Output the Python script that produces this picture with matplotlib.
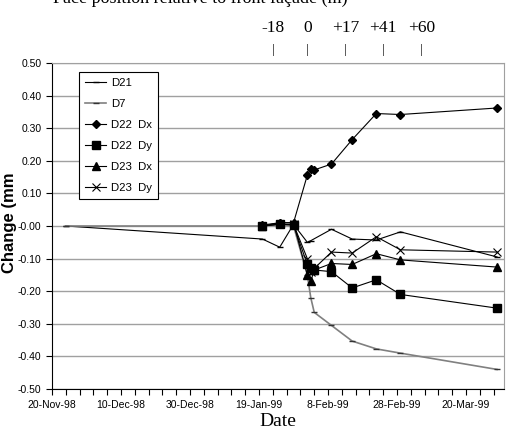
import numpy as np
import matplotlib
matplotlib.use("Agg")
import matplotlib.pyplot as plt
import matplotlib.transforms as mtransforms

plt.rcParams['font.family'] = ['Liberation Sans', 'DejaVu Sans']

# D21 and D7 - continuous readings
d21_dates = ['1998-11-24', '1999-01-20', '1999-01-25', '1999-01-29', '1999-02-02', '1999-02-03',
             '1999-02-09', '1999-02-15', '1999-02-22', '1999-03-01', '1999-03-29']
d21_vals = [0.00, -0.04, -0.065, 0.005, -0.05, -0.045, -0.01, -0.04, -0.043, -0.018, -0.095]

d7_dates = ['1998-11-24', '1999-01-20', '1999-01-25', '1999-01-29', '1999-02-02', '1999-02-03',
            '1999-02-04', '1999-02-09', '1999-02-15', '1999-02-22', '1999-03-01', '1999-03-29']
d7_vals = [0.00, 0.00, 0.005, 0.0, -0.15, -0.22, -0.265, -0.305, -0.353, -0.377, -0.39, -0.44]

# D22 / D23 survey points
pt_dates = ['1999-01-20', '1999-01-25', '1999-01-29', '1999-02-02', '1999-02-03', '1999-02-04',
            '1999-02-09', '1999-02-15', '1999-02-22', '1999-03-01', '1999-03-29']
d22_dx = [0.003, 0.01, 0.01, 0.156, 0.175, 0.172, 0.19, 0.265, 0.345, 0.342, 0.362]
d22_dy = [0.0, 0.006, 0.003, -0.118, -0.13, -0.135, -0.14, -0.19, -0.165, -0.21, -0.252]
d23_dx = [0.0, 0.01, 0.01, -0.15, -0.17, -0.135, -0.115, -0.118, -0.085, -0.104, -0.126]
d23_dy = [0.0, 0.005, 0.005, -0.10, -0.14, -0.13, -0.08, -0.083, -0.033, -0.073, -0.08]

# face position markers along the top
face_dates = ['1999-01-23', '1999-02-02', '1999-02-13', '1999-02-24', '1999-03-07']
face_labels = ['-18', '0', '+17', '+41', '+60']

d21_t = np.array(d21_dates, dtype='datetime64[D]')
d7_t = np.array(d7_dates, dtype='datetime64[D]')
pt_t = np.array(pt_dates, dtype='datetime64[D]')

fig = plt.figure(figsize=(5.13, 4.36), dpi=100)
ax = fig.add_axes([52/513, 1-389/436, 452/513, 326/436])

ax.plot(d21_t, d21_vals, color='black', lw=0.8, marker='_', ms=4, mew=1, label='D21')
ax.plot(d7_t, d7_vals, color='#808080', lw=1.2, marker='_', ms=4, mew=1, mec='#333333', label='D7')
ax.plot(pt_t, d22_dx, color='black', lw=0.8, marker='D', ms=4.5, label='D22  Dx')
ax.plot(pt_t, d22_dy, color='black', lw=0.8, marker='s', ms=5.5, label='D22  Dy')
ax.plot(pt_t, d23_dx, color='black', lw=0.8, marker='^', ms=6, label='D23  Dx')
ax.plot(pt_t, d23_dy, color='black', lw=0.8, marker='x', ms=6, mew=0.8, label='D23  Dy')

start = np.datetime64('1998-11-20')
ax.set_xlim(start, np.datetime64('1999-03-31'))
ax.set_ylim(-0.5, 0.5)

major = start + np.arange(0, 121, 20)
ax.set_xticks(major)
ax.set_xticklabels([f"{d.day}-{d.strftime('%b-%y')}" for d in major.astype(object)], fontsize=7.5)
ax.set_xticks(start + np.arange(0, 132, 4), minor=True)
ax.tick_params(axis='x', which='both', direction='out', length=4, width=0.8, pad=4)

ax.set_yticks(np.arange(-0.5, 0.51, 0.1))
ax.set_yticklabels([f"{v:.2f}" for v in np.arange(-0.5, 0.51, 0.1)], fontsize=7.5)
ax.tick_params(axis='y', direction='out', length=4, width=0.8)
ax.yaxis.grid(True, color='#a0a0a0', lw=1)
ax.set_axisbelow(True)

ax.spines['top'].set_color('#a0a0a0')
ax.spines['right'].set_color('#a0a0a0')

ax.set_xlabel('Date', family='Liberation Serif', fontsize=14, labelpad=2)
fig.text(10/513, 1-223/436, 'Change (mm', rotation=90, fontsize=12, fontweight='bold',
         ha='center', va='center')

leg = ax.legend(loc='upper left', bbox_to_anchor=(27/452, 1-9/326), borderaxespad=0,
                fontsize=8.2, frameon=True, fancybox=False, edgecolor='black', framealpha=1,
                handlelength=1.9, handletextpad=0.4, labelspacing=0.97, borderpad=0.5)
leg.get_frame().set_linewidth(0.8)

# face position annotations
trans = mtransforms.blended_transform_factory(ax.transData, fig.transFigure)
for d, lab in zip(np.array(face_dates, dtype='datetime64[D]'), face_labels):
    ax.text(d, 1-28/436, lab, transform=trans, ha='center', va='center',
            family='Liberation Serif', fontsize=12.5)
    ax.text(d, 1-50/436, '|', transform=trans, ha='center', va='center',
            family='Liberation Serif', fontsize=9)
fig.text(53/513, 1-3/436, 'Face position relative to front façade (m)', ha='left', va='baseline',
         family='Liberation Serif', fontsize=13)

fig.savefig('out.png', dpi=100)
